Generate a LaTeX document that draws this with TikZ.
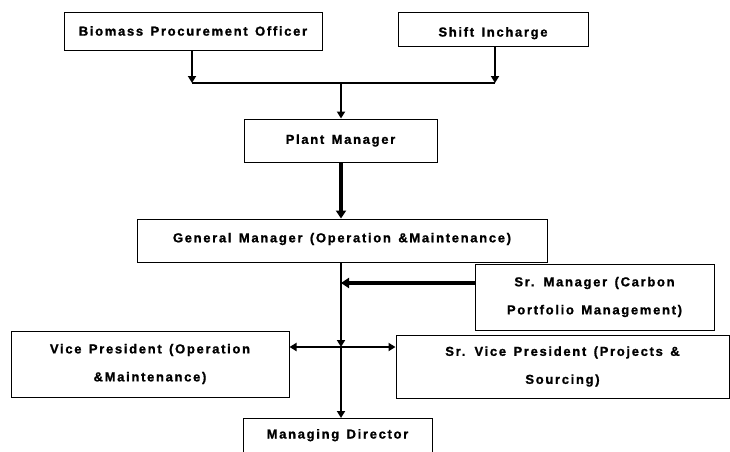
\documentclass[tikz,border=0pt]{standalone}
\usepackage{fontspec}
\setmainfont{Liberation Sans}[LetterSpace=13,WordSpace=1.4,BoldFeatures={FakeBold=1.2}]
\usetikzlibrary{arrows.meta}
\begin{document}
\begin{tikzpicture}[x=1pt,y=-1pt,
  box/.style={draw=black,line width=1pt,fill=white,rectangle,inner sep=0pt,align=center,font=\fontsize{13}{28}\selectfont\bfseries},
  conn/.style={line width=2pt,-{Triangle[width=8pt,length=7pt]}},
  thin/.style={line width=1.3pt},
  thick conn/.style={line width=3.2pt,-{Triangle[width=10pt,length=8pt]}}]
\useasboundingbox (0,0) rectangle (730,451);
\clip (0,0) rectangle (730,451);
\node[box,minimum width=258pt,minimum height=38pt] (bpo) at (193,31) {Biomass Procurement Officer};
\node[box,minimum width=190pt,minimum height=34pt] (si) at (493,29) {\raisebox{-7.5pt}[0pt][0pt]{Shift Incharge}};
\node[box,minimum width=193pt,minimum height=43pt] (pm) at (340.5,140.5) {Plant Manager};
\node[box,minimum width=410pt,minimum height=43pt] (gm) at (342,240.5) {\raisebox{-1.8pt}[0pt][0pt]{General Manager (Operation \&Maintenance)}};
\node[box,minimum width=239pt,minimum height=66pt] (srm) at (594.5,297) {Sr. Manager (Carbon\\Portfolio Management)};
\node[box,minimum width=278pt,minimum height=66pt] (vp) at (150,364) {Vice President (Operation\\\&Maintenance)};
\node[box,minimum width=333pt,minimum height=63pt] (svp) at (562.5,366.5) {Sr. Vice President (Projects \&\\Sourcing)};
\node[box,minimum width=189pt,minimum height=40pt,anchor=north] (md) at (337.5,418) {\raisebox{0pt}[0pt][0pt]{Managing Director}};
\coordinate (j1) at (192,83);
\coordinate (j2) at (495,83);
\coordinate (jm) at (341,83);
\coordinate (jx) at (341,347);
\coordinate (js) at (341,283);
\draw[conn] (bpo.south -| j1) -- (j1);
\draw[conn] (si.south -| j2) -- (j2);
\draw[thin] (j1) -- (j2);
\draw[conn] (jm) -- (pm.north -| jm);
\draw[thick conn] (pm.south -| jm) -- (gm.north -| jm);
\draw[conn] (gm.south -| jm) -- (jx);
\draw[conn] (jx) -- (md.north -| jx);
\draw[conn] (jx) -- (vp.east |- jx);
\draw[conn] (jx) -- (svp.west |- jx);
\draw[thick conn] (srm.west |- js) -- (js);
\end{tikzpicture}
\end{document}
